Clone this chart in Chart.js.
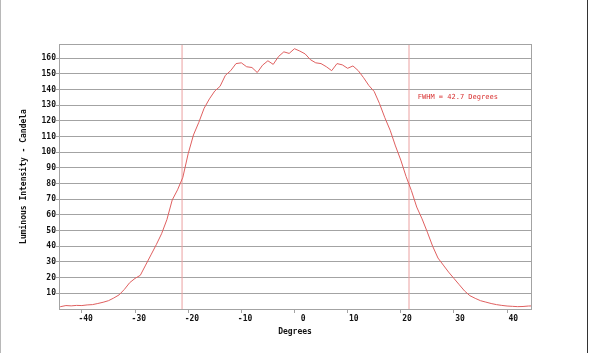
<!DOCTYPE html>
<html>
<head>
<meta charset="utf-8">
<script src="https://cdn.jsdelivr.net/npm/chart.js@4/dist/chart.umd.min.js"></script>
<style>
  html, body { margin: 0; padding: 0; background: #fff; }
  canvas { display: block; }
</style>
</head>
<body>
<canvas id="myChart" width="590" height="353"></canvas>
<script>
// angles (degres) et intensite
const degrees = [-45, -44, -43, -42, -41, -40, -39, -38, -37, -36, -35, -34, -33, -32, -31, -30,
  -29, -28, -27, -26, -25, -24, -23, -22, -21, -20, -19, -18, -17, -16, -15, -14, -13, -12, -11,
  -10, -9, -8, -7, -6, -5, -4, -3, -2, -1, 0, 1, 2, 3, 4, 5, 6, 7, 8, 9, 10, 11, 12, 13, 14,
  15, 16, 17, 18, 19, 20, 21, 22, 23, 24, 25, 26, 27, 28, 29, 30, 31, 32, 33, 34, 35, 36, 37,
  38, 39, 40, 41, 42, 43, 44, 45];
const intensity = [1.0, 1.5, 2.2, 2.0, 2.3, 2.2, 2.6, 2.8, 3.5, 4.3, 5.3, 7.0, 9.0, 12.5, 16.8, 19.5,
  21.5, 28, 34.5, 41, 48, 57, 69.5, 76, 84, 99, 111, 119, 128, 134, 139, 142, 149, 152, 156.5,
  157, 154.5, 154, 150.8, 155.5, 158.3, 156, 161, 164, 163, 166, 164.5, 162.7, 159, 157, 156.5, 154.5, 152, 156.5,
  155.7, 153.5, 155, 152, 147.5, 142.5, 138.7, 131, 122, 114, 104, 95, 84.5, 75.5, 65, 57.5, 49, 40, 32.5,
  28, 23.5, 19.5, 15.5, 11.5, 8.5, 6.8, 5.3, 4.4, 3.5, 2.8, 2.3, 1.9, 1.7, 1.5, 1.6, 1.9, 2.0];

// limites a mi-hauteur (FWHM)
const fwhmEdges = [-21.15, 21.55];
const fwhmText = 'FWHM = 42.7 Degrees';

const xTicks = [-40, -30, -20, -10, 0, 10, 20, 30, 40];
const yTicks = [10, 20, 30, 40, 50, 60, 70, 80, 90, 100, 110, 120, 130, 140, 150, 160];

const xMin = -44.3, xMax = 44.5, yMin = 0, yMax = 169;
const notePos = { x: 23.2, y: 135 };

const mono = "'DejaVu Sans Mono', monospace";
const gridColor = '#a3a3a3';

// cadre gris + texte FWHM
const framePlugin = {
  id: 'frame',
  beforeDraw(chart) {
    const ctx = chart.ctx;
    ctx.save();
    ctx.fillStyle = '#fff';
    ctx.fillRect(0, 0, chart.width, chart.height);
    ctx.fillStyle = '#b8b8b8';
    ctx.fillRect(0, 0, 1, chart.height);
    ctx.fillStyle = '#333';
    ctx.fillRect(587, 0, 1, chart.height);
    ctx.restore();
  },
  afterDraw(chart) {
    const { ctx, chartArea: a, scales } = chart;
    ctx.save();
    ctx.strokeStyle = gridColor;
    ctx.lineWidth = 1;
    ctx.strokeRect(a.left + 0.5, a.top + 0.5, a.right - a.left, a.bottom - a.top);
    ctx.fillStyle = '#d83030';
    ctx.font = '7px ' + mono;
    ctx.textBaseline = 'middle';
    ctx.textAlign = 'left';
    ctx.fillText(fwhmText, scales.x.getPixelForValue(notePos.x), scales.y.getPixelForValue(notePos.y));
    ctx.restore();
  }
};

const points = degrees.map((d, i) => ({ x: d, y: intensity[i] }));
const edgeLine = (v) => [{ x: v, y: yMin }, { x: v, y: yMax }];

const ctx = document.getElementById('myChart').getContext('2d');
const myChart = new Chart(ctx, {
  type: 'line',
  data: {
    datasets: [
      {
        data: points,
        borderColor: '#e06060',
        borderWidth: 1,
        pointRadius: 0,
        tension: 0
      },
      {
        data: edgeLine(fwhmEdges[0]),
        borderColor: '#eba0a0',
        borderWidth: 1,
        pointRadius: 0
      },
      {
        data: edgeLine(fwhmEdges[1]),
        borderColor: '#eba0a0',
        borderWidth: 1,
        pointRadius: 0
      }
    ]
  },
  options: {
    responsive: false,
    animation: false,
    devicePixelRatio: 1,
    layout: { padding: { left: 0, top: 44, right: 59, bottom: 0 } },
    plugins: { legend: { display: false }, tooltip: { enabled: false } },
    scales: {
      x: {
        type: 'linear',
        min: xMin,
        max: xMax,
        afterFit: (s) => { s.height = 44; },
        afterBuildTicks: (s) => { s.ticks = xTicks.map(v => ({ value: v })); },
        grid: { drawOnChartArea: false, drawTicks: true, tickLength: 4, color: gridColor },
        border: { color: gridColor },
        ticks: {
          color: '#111',
          font: { family: mono, size: 8, weight: 'bold' },
          align: 'end',
          labelOffset: 11,
          padding: 1,
          maxRotation: 0,
          autoSkip: false
        },
        title: {
          display: true,
          text: 'Degrees',
          color: '#111',
          font: { family: mono, size: 8, weight: 'bold' },
          padding: { top: 0, bottom: 16 }
        }
      },
      y: {
        type: 'linear',
        min: yMin,
        max: yMax,
        afterFit: (s) => { s.width = 59; },
        afterBuildTicks: (s) => { s.ticks = yTicks.map(v => ({ value: v })); },
        grid: { color: gridColor, tickLength: 3 },
        border: { color: gridColor },
        ticks: {
          color: '#111',
          font: { family: mono, size: 8, weight: 'bold' },
          padding: 0,
          autoSkip: false
        },
        title: {
          display: true,
          text: 'Luminous Intensity - Candela',
          color: '#111',
          font: { family: mono, size: 8, weight: 'bold' },
          padding: { top: 19, bottom: 0 }
        }
      }
    }
  },
  plugins: [framePlugin]
});
</script>
</body>
</html>
